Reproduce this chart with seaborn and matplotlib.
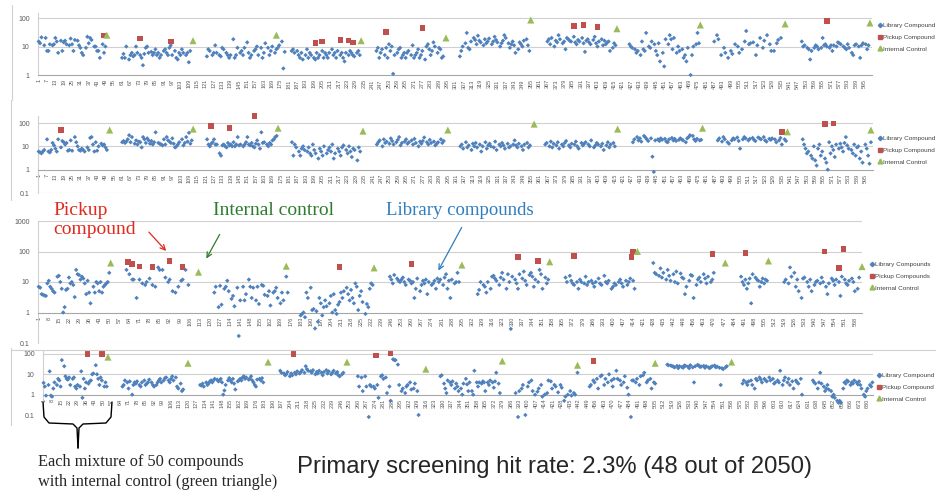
import numpy as np
import pandas as pd
import seaborn as sns
import matplotlib.pyplot as plt
from matplotlib.lines import Line2D
from matplotlib.patches import FancyArrowPatch
from matplotlib.ticker import FixedLocator, NullLocator, MultipleLocator, FuncFormatter

sns.set_style("white")
plt.rcParams['font.family'] = ['Liberation Sans', 'DejaVu Sans']

W, H = 937, 495
BLUE, RED, GREEN = '#4F81BD', '#C0504D', '#9BBB59'

# ---------------- panel 1 (compounds 1-600) ----------------
p1_start = [1, 61, 122, 183, 244, 304, 367, 426, 487, 550]
p1_end = [49, 110, 178, 232, 292, 354, 416, 476, 535, 598]
p1_lib = [
    "15 13 21 11 20 7 7 12 11 12 20 15 6 16 7 14 16 12 11 19 12 7 17 16 11 9 6 5 9 22 13 20 17 10 10 7 7 4 12 6 10",
    "4 5.5 4 10 3.5 5 6 4.5 5 10 6 5 4 2.2 5.5 9 10 6 6.5 5 6 8 5 6 4 5 7 8 6 5 9 11 5 7 4 3.5 6 5 8 6 5 6 2.8 7",
    "4.5 8 7 5 6 11 6 5 4.5 9 8 6 5 4 5 18 4 5 9 6 7 5 9 14 6 4 5 7 8 10 5 9 4 6 13 9 5 7 10 6 8 9 11 15 1.7 6.5",
    "7 8 6 7 5 4 6 3.5 5 8 4 6 5 4 3.5 6 4 5 7 4 6 5 4 6 8 5 6 4 7 5 6 4 3 6 5 7 6 5 4.5 6 7 5",
    "7 9 4 6 8 5 9 4 12 7 10 1.1 5 6 8 9 4 5 6 4 6 7 5 11 4 5 6 8 4 5 7 3.5 10 12 8 5 7 14 10 6 9 8 4 4.5",
    "4.5 7 10 13 30 9 8 15 20 17 12 24 16 14 11 18 13 15 19 12 15 22 17 14 10 13 16 25 20 13 9 12 15 11 6 8 14 12 10 16 18 11 7",
    "15 18 12 20 10 16 14 25 18 13 15 8 20 18 16 15 22 14 12 17 15 20 13 6.5 16 18 14 12 17 22 13 10 15 18 11 16 12 14 15 7 9 13 11",
    "12 10 9 8 6 7 5 15 8 7 30 10 9 15 12 7 5 13 3 6 2 18 12 25 18 8 20 6 10 7 8 4 5 3 9 1 5 10 12 30 13",
    "15 25 18 5 9 6 4 7 5.5 12 10 6 8 15 35 12 13 14 5 11 20 9 16 25 12 7 7 13 17 20",
    "15 10 11 9 8 3.5 7 9 11 10 8 9 20 11 12 10 9 11 7 11 10 14 13 12 10 9 8 12 9 6 5 11 12 10 4 11 13 12 8 11",
]
p1_pick_x = [48, 74, 96, 200, 205, 218, 224, 227, 251, 277, 386, 393, 403, 568]
p1_pick_y = [24, 19, 15, 13, 15, 17, 16, 14, 33, 45, 53, 57, 49, 79]
p1_ctrl_x = [50, 112, 172, 233, 294, 355, 417, 477, 538, 599]
p1_ctrl_y = [25, 16, 25, 16, 20, 85, 42, 57, 62, 67]

# ---------------- panel 2 (compounds 601-1200) ----------------
p2_start = [1, 61, 122, 183, 244, 304, 365, 428, 489, 550]
p2_end = [50, 111, 172, 232, 292, 354, 415, 477, 538, 599]
p2_lib = [
    "6 5.5 5 6 7 20 6 5.5 7 14 11 8 6 20 9 17 15 12 14 6.5 7 18 6.5 25 15 10 7 6.5 8 7 6 9 7 23 25 12 6 15 6.5 10 13 11 12 9 7",
    "15 17 14 16 20 30 15 25 13 18 12 16 15 9 25 20 14 22 18 13 17 12 15 40 14 13 12 11 20 12 25 18 16 14 22 13 9 10 12 15 20 11 14 25 16 38 13 18",
    "20 12 10 13 15 20 12 12 5 4 11 12 10 9 14 11 12 10 15 10 12 25 11 12 10 12 15 25 12 11 14 10 9 13 18 12 8 40 14 15 12 10 14 12 18 20 25 28",
    "15 4 12 9 6 4 8 10 7 6 9 5 4 12 7 5 3 8 6 4 10 5 7 9 6 12 3 5 8 6 4 9 11 7 5 10 6 3.5 8 7 2.5 9 6",
    "12 15 18 10 20 14 16 13 22 17 12 15 19 25 11 14 16 20 13 15 18 12 21 14 10 16 13 17 24 15 12 19 14 16 11 13 15 20 14 17",
    "10 12 8 15 9 11 7 13 10 14 9 12 6 10 15 8 11 13 10 9 16 7 12 10 14 11 8 13 9 10 12 18 11 9 13 10 7 12 14 9 11",
    "12 14 10 16 9 13 11 15 8 12 10 14 17 11 9 13 12 16 10 8 14 11 13 15 12 10 18 9 11 14 12 10 13 7 11 15 9 12 14 10",
    "15 20 25 18 22 16 28 24 20 17 22 3.6 0.8 18 20 17 22 19 21 16 15 20 23 18 21 17 19 22 20 18 15 22 25 30 28 20 17 21 18 19",
    "18 22 16 25 20 15 13 18 22 20 24 17 8 20 25 22 18 21 23 19 17 24 22 20 25 18 16 21 19 22 20 15 18 23 12 20 17",
    "20 12 8 5 6 4 3 10 2.5 1.5 8 12 4 6 3 2 1 15 5 10 7 3.5 12 8 13 9 6 14 25 11 8 7 5 12 4 9 10 3 6 2 12 8 4 1.8 15",
]
p2_pick_x = [17, 125, 138, 156, 535, 566, 572]
p2_pick_y = [50, 74, 61, 200, 41, 90, 95]
p2_ctrl_x = [52, 112, 173, 234, 295, 357, 417, 478, 539, 599]
p2_ctrl_y = [50, 55, 60, 45, 50, 90, 55, 60, 42, 50]

# ---------------- panel 3 (compounds 1201-1770) ----------------
p3_start = [1, 62, 123, 183, 245, 306, 367, 428, 489, 519]
p3_end = [50, 105, 174, 233, 293, 355, 415, 470, 507, 571]
p3_lib = [
    "7 6.5 4 3.8 3.6 3.5 9 11 7 6 5 4.5 15 16 10 6 1 1.5 5.5 6 14 9 10 8 3.2 25 18 17 12 15 13 9 4 11 4.5 2 7 4.5 10 9 5 10 4.5 7 8 9 10 20",
    "25 18 12 12 3 12 9 8 10 13 8 7 30 25 25 14 10 12 5 4.5 7 11 12 25 8",
    "4.5 7 1.5 7.5 1.8 6 7 11 5 2.8 3.5 1.6 6.5 0.17 2.5 7 2.5 4 12 7 3 6.5 2.5 7 1.9 8 7.5 3.8 3.5 5 1.7 4.5 5 6.5 3 2 4.5 2.5 15 4.5",
    "0.8 0.9 1 0.7 4.5 3 6.5 1.2 1.3 0.3 1.1 0.5 3 2 0.8 1.5 2.5 1.6 2 3.5 1 4 1.2 0.9 1.8 2.2 4.5 3 5 6.5 4 2.5 5.5 3 2 9 7 1.2 3.5 5 2.2 0.9 1.9 1.5 6 9 8",
    "15 12 9 17 13 11 10 12 14 10 8 12 11 9 10 3 6 13 5 8 11 9 12 4 10 8 9 11 6 13 10 12 8 14 18 6 11 3 12 9 10 20 10",
    "4 5.5 10 8 7 4.5 10 6 15 16 13 11 8 14 20 12 6 18 10 0.29 15 12 9 6 18 13 22 11 8 17 20 15 7 12 10 25 18 6 14 9 12",
    "14 10 16 11 9 8 10 6 12 10 9 15 8 10 11 9 7 10 13 9 8 16 10 9 11 6 7 9 8 10 12 9 7 11 8 10 13 11 6",
    "42 20 18 16 28 14 20 12 25 16 11 18 10 22 9 19 14 13 4 7 11 17 16 3 8 12 14 10 18 13 9 15 10 12 20",
    "15 10 8 12 6 9 13 2 18 14 12 11 7 10 13 9 12 11",
    "10 12 9 30 15 20 7 12 5 3 13 14 10 7 12 5 8 10 11 9 14 10 7 4 9 13 11 8 12 10 3.5 15 12 9 8 11 13 10 5 6 14",
]
p3_pick_x = [63, 66, 71, 80, 92, 101, 210, 260, 334, 348, 373, 413, 414, 469, 492, 547, 557, 560]
p3_pick_y = [45, 39, 32, 31, 48, 31, 31, 39, 66, 49, 71, 66, 100, 83, 90, 100, 29, 120]
p3_ctrl_x = [51, 112, 173, 234, 295, 356, 417, 478, 508, 573]
p3_ctrl_y = [42, 21, 33, 29, 36, 46, 100, 42, 49, 32]

# ---------------- panel 4 (compounds 1771-2050+) ----------------
p4_start = [1, 66, 130, 196, 260, 328, 390, 451, 515, 577, 635]
p4_end = [53, 116, 182, 248, 310, 377, 441, 505, 564, 626, 684]
p4_lib = [
    "3.8 2.5 0.9 3 14 0.9 0.8 2 4 3 6 5 2.5 50 25 8 6 5.5 7 3 6 7 2.5 2 3 2.5 14 0.7 6 2 4 3.5 4.5 5 10 11 28 10 6 3 7 5 2.5 4 2.5",
    "2.5 3 5 4 2 4.5 1 3 4 3.5 4.5 3 2.5 4 5 3 3.5 4 5.5 4 3 2.5 3 4 5 6 4 5 6.5 7 5 4 6 8 5 7 2.5 2 3.5 1.5 1.8",
    "3 2.8 3.5 2.5 4 3 3.5 4.5 5 4 5 6 5.5 4.5 5 6 4 1 1.6 3 5 6.5 5 4 6 3.5 1.8 4.5 5 6 5 7 8 6 7 5.5 6 8 5 4 3 2.5 5.5 6 5 6.5 4",
    "15 12 11 9 10 13 8 11 9 12 10 14 11 13 16 12 25 18 15 14 12 16 10 13 11 15 12 9 13 16 11 14 10 12 15 11 13 9 8 10 12",
    "8 2.5 7 1.5 8 2.5 0.08 3 2.5 2.5 2 3 0.7 8 9 6 7 1.2 2.5 0.5 55 50 50 30 3 1.5 2 1.2 2.5 3 4 1.8 2 3.5 1.5 0.1",
    "8 9 3.5 2 1.2 5 4 3 4.5 2 3.5 2.5 1.5 2 1 3.5 6 3.2 1.5 4 1.5 1 15 4 2.5 4 3.5 4.5 4 1.5 4 3 5 4 2.2 4.5 12 3.5 1.2",
    "1.2 0.08 1.5 2 3 0.1 2.5 4 5 1.5 1 1.4 2 3 0.8 1 1.2 5 4.5 2 3 2.5 1.3 3 2.2 0.5 0.8 1 1.5 0.9 1.2 1 12",
    "2.5 3 5 4 6 2 8 9 3 6 4 10 5 2.5 6 15 6 5 3 4 8 2.2 1 0.08 5 5 4 6 3 8 9 12 4 5 6 2 4 3.5",
    "30 28 27 25 24 22 26 20 25 23 21 27 26 24 20 28 22 4 25 29 27 23 24 26 21 25 22 20 23 25 27 22 24 21 3 20 18 22 25",
    "3.5 5 4 3 4.5 5 3 2 6 5 7 5.5 4 6 5 4.5 7 5 6 3.5 4 5 4 15 3 5 7 4 6 3 4.5 2 5 4 3.5 6 1",
    "5 4 3.5 2 4 12 3.5 2.5 1.5 2 3 1.8 1.5 0.8 1 0.7 0.5 0.4 0.5 0.4 2 4 3.5 5 4.5 3 4 3.5 5 4 3.2 4.5 3 2 1 0.8 1.5 2 3 2.5 4",
]
p4_pick_x = [37, 49, 207, 275, 287, 454]
p4_pick_y = [100, 100, 100, 85, 110, 45]
p4_ctrl_x = [54, 120, 186, 251, 316, 379, 441, 505, 568]
p4_ctrl_y = [70, 35, 40, 40, 18, 45, 28, 35, 40]

kinds = ["Library Compounds", "Pickup Compounds", "Internal Control"]


def panel_df(starts, ends, lib, pick_x, pick_y, ctrl_x, ctrl_y):
    rows = []
    for s, e, txt in zip(starts, ends, lib):
        vals = [float(v) for v in txt.split()]
        xs = np.linspace(s, e, len(vals)).round()
        rows += [(x, v, kinds[0]) for x, v in zip(xs, vals)]
    rows += [(x, v, kinds[1]) for x, v in zip(pick_x, pick_y)]
    rows += [(x, v, kinds[2]) for x, v in zip(ctrl_x, ctrl_y)]
    return pd.DataFrame(rows, columns=["idx", "val", "kind"])


def box(l, r, top, bottom):
    return [l / W, 1 - bottom / H, (r - l) / W, (bottom - top) / H]


fig = plt.figure(figsize=(W / 100, H / 100), dpi=100)

short = ["Library Compound", "Pickup Compound", "Internal Control"]
panels = [
    (panel_df(p1_start, p1_end, p1_lib, p1_pick_x, p1_pick_y, p1_ctrl_x, p1_ctrl_y),
     box(38, 872, 13, 75), (1, 150), (0.5, 600.5), range(1, 600, 6), [1, 10, 100], short, (878, 23)),
    (panel_df(p2_start, p2_end, p2_lib, p2_pick_x, p2_pick_y, p2_ctrl_x, p2_ctrl_y),
     box(38, 873, 116, 193), (0.1, 200), (0.5, 600.5), range(1, 600, 6), [0.1, 1, 10, 100], short, (878, 136)),
    (panel_df(p3_start, p3_end, p3_lib, p3_pick_x, p3_pick_y, p3_ctrl_x, p3_ctrl_y),
     box(38, 862, 221, 343), (0.1, 1000), (0.5, 573), range(1, 569, 7), [0.1, 1, 10, 100, 1000], kinds, (870, 262)),
    (panel_df(p4_start, p4_end, p4_lib, p4_pick_x, p4_pick_y, p4_ctrl_x, p4_ctrl_y),
     box(43, 873, 351, 415), (0.1, 140), (0.5, 684.5), range(1, 681, 7), [0.1, 1, 10, 100], short, (877, 373)),
]

for df, pos, ylim, xlim, xt, yt, leg_labels, leg_xy in panels:
    ax = fig.add_axes(pos)
    sns.scatterplot(data=df, x="idx", y="val", hue="kind", style="kind", size="kind",
                    hue_order=kinds, style_order=kinds, size_order=kinds,
                    palette=dict(zip(kinds, [BLUE, RED, GREEN])),
                    markers=dict(zip(kinds, ["D", "s", "^"])),
                    sizes=dict(zip(kinds, [5, 16, 26])),
                    linewidth=0, legend=False, ax=ax, clip_on=False, zorder=3)
    ax.set_yscale("log")
    ax.set_ylim(*ylim)
    ax.set_xlim(*xlim)
    ax.yaxis.set_major_locator(FixedLocator(yt))
    ax.yaxis.set_minor_locator(NullLocator())
    ax.yaxis.set_major_formatter(FuncFormatter(lambda v, p: "0.1" if v < 1 else str(int(round(v)))))
    ax.xaxis.set_major_locator(FixedLocator(list(xt)))
    ax.xaxis.set_major_formatter(FuncFormatter(lambda v, p: str(int(round(v)))))
    ax.xaxis.set_minor_locator(MultipleLocator(1))
    ax.tick_params(axis="x", which="major", labelsize=4, colors="#8C8C8C", labelcolor="#595959",
                   length=2, width=0.4, pad=1, labelrotation=90)
    ax.tick_params(axis="x", which="minor", length=1.5, width=0.3, colors="#A6A6A6")
    ax.tick_params(axis="y", labelsize=5, labelcolor="#595959", length=0, pad=6)
    ax.set_xlabel("")
    ax.set_ylabel("")
    for v in yt:
        if v != 1:
            ax.axhline(v, color="#D0D0D0", lw=0.8, zorder=1)
    ax.spines["bottom"].set_position(("data", 1))
    ax.spines["bottom"].set_color("#A6A6A6")
    ax.spines["bottom"].set_linewidth(0.8)
    ax.spines["left"].set_color("#D0D0D0")
    ax.spines["left"].set_linewidth(0.8)
    for s in ["top", "right"]:
        ax.spines[s].set_visible(False)
    ax.set_facecolor("none")

    handles = [Line2D([], [], marker="D", ls="", color=BLUE, markersize=2.2),
               Line2D([], [], marker="s", ls="", color=RED, markersize=3.5),
               Line2D([], [], marker="^", ls="", color=GREEN, markersize=3.5)]
    ax.legend(handles, leg_labels, loc="upper left", frameon=False, fontsize=4.6,
              bbox_to_anchor=(leg_xy[0] / W, 1 - leg_xy[1] / H), bbox_transform=fig.transFigure,
              handlelength=0.6, handletextpad=0.25, labelspacing=0.95, borderaxespad=0,
              borderpad=0, labelcolor="#404040")

# chart-area borders of the pasted Excel charts
border = "#D0D0D0"
for x0, y0, x1, y1 in [(12, 5, 12, 100), (11, 100, 11, 200), (11, 348, 11, 425), (11, 350, 937, 350)]:
    fig.add_artist(Line2D([x0 / W, x1 / W], [1 - y0 / H, 1 - y1 / H], color=border, lw=0.8))

# annotations on the third chart
serif = ["Liberation Serif", "DejaVu Serif"]
fig.text(53 / W, 1 - 220 / H, "Pickup\ncompound", color="#E02A1E", fontsize=14, family=serif,
         va="center", ha="left", linespacing=1.15)
fig.text(213 / W, 1 - 210 / H, "Internal control", color="#2E7D2E", fontsize=14, family=serif,
         va="center", ha="left")
fig.text(386 / W, 1 - 210 / H, "Library compounds", color="#2F7DBE", fontsize=13.5, family=serif,
         va="center", ha="left")
for (xa, ya), (xb, yb), c in [((147, 230), (168, 253), "#E02A1E"),
                              ((221, 232), (205, 261), "#2E7D2E"),
                              ((463, 225), (437, 273), "#2F7DBE")]:
    fig.add_artist(FancyArrowPatch(
        (xa / W, 1 - ya / H), (xb / W, 1 - yb / H), transform=fig.transFigure,
        arrowstyle="->", mutation_scale=9, color=c, lw=0.9))

# curly brace under the first mixture of the last chart
brace_l = [(43, 402), (44, 417), (49, 423), (73, 424), (77, 428), (78, 448)]
brace_r = [(112, 402), (111, 417), (106, 423), (83, 424), (79, 428), (78, 448)]
for pts in (brace_l, brace_r):
    fig.add_artist(Line2D([p[0] / W for p in pts], [1 - p[1] / H for p in pts], color="black", lw=1))

fig.text(38 / W, 1 - 472 / H, "Each mixture of 50 compounds\nwith internal control (green triangle)",
         fontsize=11.8, family=serif, va="center", ha="left", linespacing=1.3)
fig.text(297 / W, 1 - 467 / H, "Primary screening hit rate: 2.3% (48 out of 2050)",
         fontsize=17.2, va="center", ha="left")

fig.savefig("out.png", dpi=100)
